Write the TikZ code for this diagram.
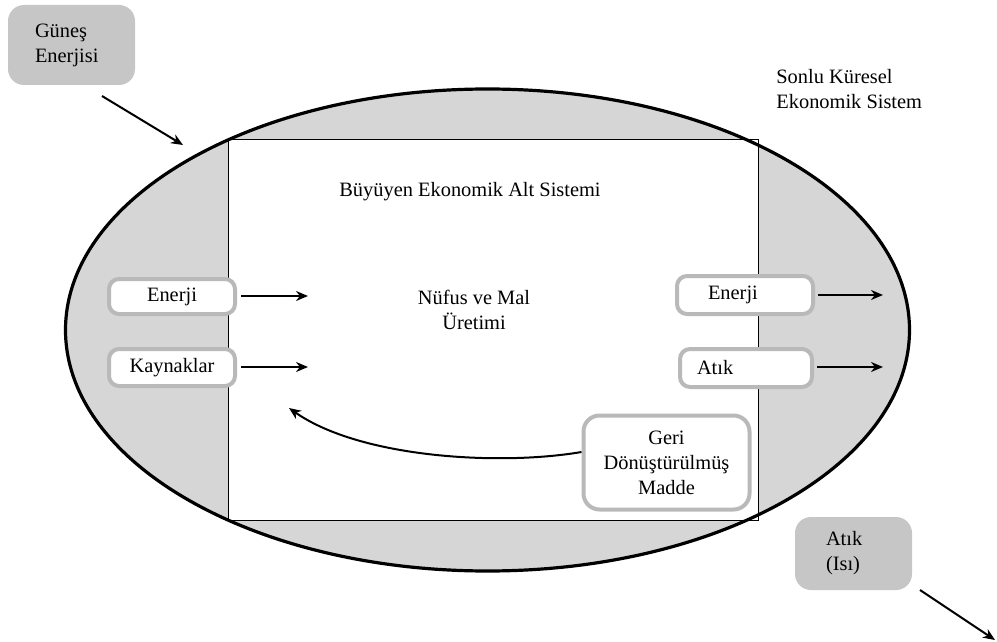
\documentclass[tikz,border=0pt]{standalone}
\usepackage{fontspec}
\setmainfont{Liberation Serif}
\usetikzlibrary{arrows.meta}
\definecolor{shadegray}{RGB}{214,214,214}
\definecolor{boxgray}{RGB}{198,198,198}
\definecolor{rimgray}{RGB}{185,185,185}
\begin{document}
\begin{tikzpicture}[x=0.5pt,y=-0.5pt,
  every node/.style={font=\fontsize{10.2}{12.5}\selectfont},
  graybox/.style={fill=boxgray, draw=none, rounded corners=8pt, align=left},
  whitebox/.style={fill=white, draw=rimgray, line width=2pt, rounded corners=5pt, inner sep=0pt},
  arr/.style={line width=1pt, -{Stealth[length=6pt,width=5pt]}}
]
\useasboundingbox (0,0) rectangle (997,642);
% outer system
\fill[shadegray] (487.5,330) ellipse [x radius=211pt, y radius=120.5pt];
\fill[white] (228,140) rectangle (758,520);
\draw[line width=0.5pt] (228,140) rectangle (758,520);
\draw[line width=1.6pt] (487.5,330) ellipse [x radius=211pt, y radius=120.5pt];
% texts
\node[align=left, anchor=west, inner xsep=0pt] (sonlu) at (776,89) {Sonlu Küresel\\Ekonomik Sistem};
\node (buyuyen) at (470,192) {Büyüyen Ekonomik Alt Sistemi};
\node[align=center] (nufus) at (474,310) {Nüfus ve Mal\\Üretimi};
% outside boxes
\node[graybox, minimum width=63.5pt, minimum height=40pt, text width=36.5pt, inner xsep=13.5pt] (gunes) at (71.5,45) {Güneş\\Enerjisi};
\node[graybox, minimum width=58.5pt, minimum height=36.5pt, text width=27.5pt, inner xsep=15.5pt] (isi) at (853.5,553.5) {Atık\\(Isı)};
\coordinate (gunesEnd) at (183,145);
\coordinate (isiStart) at (920,590);
\coordinate (isiEnd) at (995,640);
\draw[arr] (102,96) -- (gunesEnd);
\draw[arr] (isiStart) -- (isiEnd);
% left boxes
\node[whitebox, minimum width=63pt, minimum height=17.5pt] (enL) at (172,296.5) {Enerji};
\node[whitebox, minimum width=63pt, minimum height=18.5pt] (kay) at (172,367.5) {Kaynaklar};
\coordinate (enLend) at (308,296);
\coordinate (kayend) at (308,367);
\draw[arr] (enL.east |- enLend) ++(4,0) -- (enLend);
\draw[arr] (kay.east |- kayend) ++(4,0) -- (kayend);
% right boxes
\node[whitebox, minimum width=68pt, minimum height=19pt, text width=37pt, align=left, inner xsep=15.5pt] (enR) at (745,295) {Enerji};
\node[whitebox, minimum width=66pt, minimum height=19pt, text width=49pt, align=left, inner xsep=8.5pt] (atik) at (746,368) {Atık};
\coordinate (enRend) at (883,295);
\coordinate (atikend) at (883,367);
\draw[arr] (enR.east |- enRend) ++(3,0) -- (enRend);
\draw[arr] (atik.east |- atikend) ++(3,0) -- (atikend);
% recycled
\node[whitebox, minimum width=83pt, minimum height=47pt, align=center, rounded corners=8pt] (geri) at (666.5,462.5) {Geri\\Dönüştürülmüş\\Madde};
\coordinate (geriEnd) at (289,408);
\draw[arr] (geri.west |- 0,452) .. controls (500,466) and (360,458) .. (geriEnd);
\end{tikzpicture}
\end{document}
